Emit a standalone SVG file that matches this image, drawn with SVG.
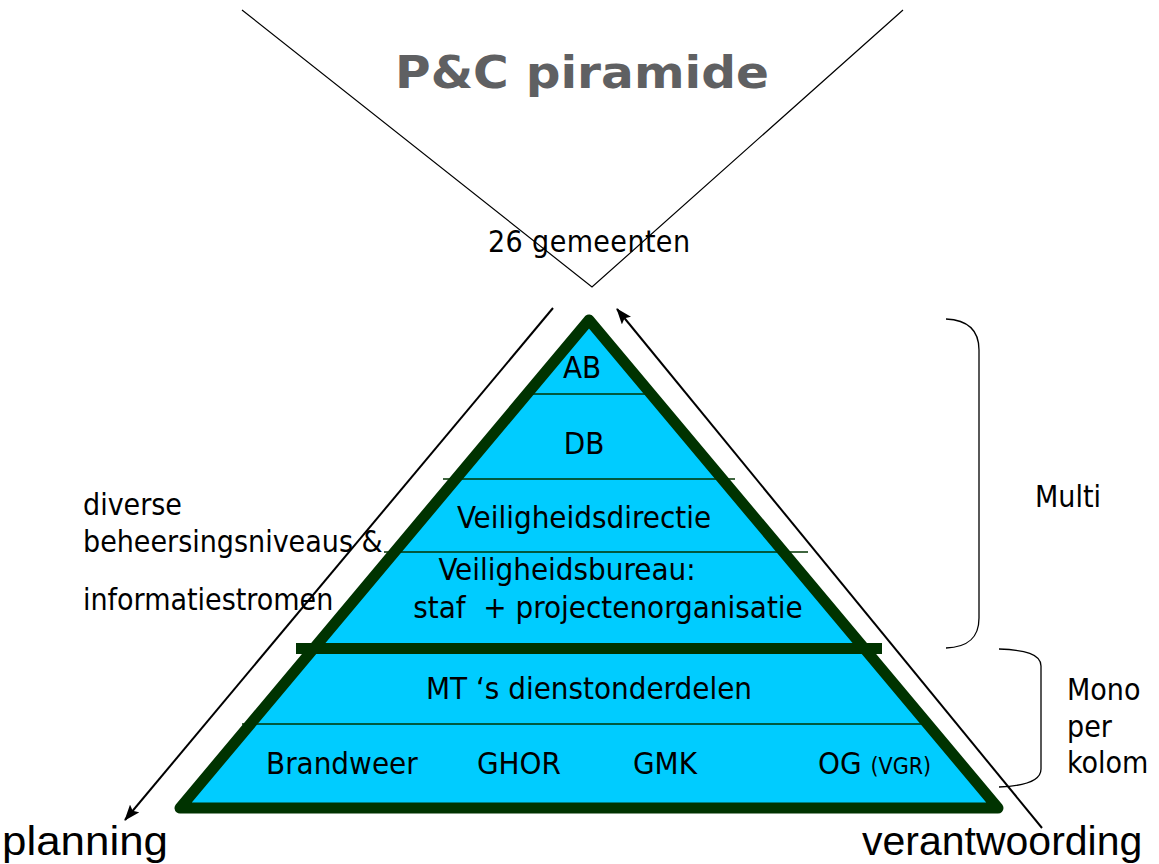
<svg xmlns="http://www.w3.org/2000/svg" width="1159" height="864" viewBox="0 0 1159 864">
<defs>
<marker id="ah" viewBox="0 0 16 12" refX="15" refY="6" markerWidth="16" markerHeight="12" markerUnits="userSpaceOnUse" orient="auto">
<path d="M0,0 L16,6 L0,12 L3,6 z" fill="#000"/>
</marker>
<style>
.t{font-family:"DejaVu Sans Condensed","DejaVu Sans",sans-serif;font-size:30px;fill:#000}
.p{font-size:31px}
.c{text-anchor:middle}
.a{font-family:"Liberation Sans",Arial,sans-serif;font-size:41px;fill:#000}
.thin{stroke:#003300;stroke-width:1.3;fill:none}
.br{stroke:#000;stroke-width:1.3;fill:none}
.arr{stroke:#000;stroke-width:2;fill:none}
</style>
</defs>
<rect width="1159" height="864" fill="#fff"/>
<g id="title">
<text x="395" y="88" textLength="374" lengthAdjust="spacingAndGlyphs" style="font-family:'DejaVu Sans',Verdana,sans-serif;font-weight:bold;font-size:45px;fill:#5f6062">P&amp;C piramide</text>
</g>
<g id="funnel">
<polyline points="242,10 592,287 903,10" fill="none" stroke="#000" stroke-width="1.2"/>
<text class="t" x="488" y="252" textLength="202">26 gemeenten</text>
</g>
<g id="pyramid">
<polygon points="589,320 180,808 998,808" fill="#00ccff"/>
<line class="thin" x1="530" y1="394" x2="648" y2="394"/>
<line class="thin" x1="443" y1="479" x2="735" y2="479"/>
<line class="thin" x1="384" y1="552" x2="808" y2="552"/>
<line class="thin" x1="242" y1="724" x2="922" y2="724"/>
<rect x="296" y="643" width="586" height="11" fill="#003300"/>
<polygon points="589,320 180,808 998,808" fill="none" stroke="#003300" stroke-width="11" stroke-linejoin="round"/>
</g>
<g id="layer-ab"><text class="t p c" x="582" y="378">AB</text></g>
<g id="layer-db"><text class="t p c" x="584" y="454">DB</text></g>
<g id="layer-vd"><text class="t p c" x="584" y="528">Veiligheidsdirectie</text></g>
<g id="layer-vb">
<text class="t p c" x="567" y="580">Veiligheidsbureau:</text>
<text class="t p c" x="608" y="618" xml:space="preserve">staf  + projectenorganisatie</text>
</g>
<g id="layer-mt"><text class="t p c" x="589" y="699">MT ‘s dienstonderdelen</text></g>
<g id="layer-kolom">
<text class="t p" x="266" y="774">Brandweer</text>
<text class="t p" x="477" y="774">GHOR</text>
<text class="t p" x="633" y="774">GMK</text>
<text class="t p" x="818" y="774">OG <tspan style="font-size:23px">(VGR)</tspan></text>
</g>
<g id="connectors">
<line class="arr" x1="553" y1="308" x2="125" y2="820" marker-end="url(#ah)"/>
<line class="arr" x1="1042" y1="828" x2="617" y2="309" marker-end="url(#ah)"/>
<path class="br" d="M946,319 C968,320 979,330 979,350 L979,618 C979,638 968,647 946,648"/>
<path class="br" d="M999,649 C1025,650 1041,654 1041,666 L1041,769 C1041,781 1025,786 999,787"/>
</g>
<g id="labels">
<text class="t" x="83" y="515">diverse</text>
<text class="t" x="83" y="552">beheersingsniveaus &amp;</text>
<text class="t" x="83" y="610">informatiestromen</text>
<text class="t" x="1035" y="507">Multi</text>
<text class="t" x="1067" y="700">Mono</text>
<text class="t" x="1067" y="737">per</text>
<text class="t" x="1067" y="773">kolom</text>
<text class="a" x="2" y="855" textLength="166" lengthAdjust="spacingAndGlyphs">planning</text>
<text class="a" x="862" y="855">verantwoording</text>
</g>
</svg>
